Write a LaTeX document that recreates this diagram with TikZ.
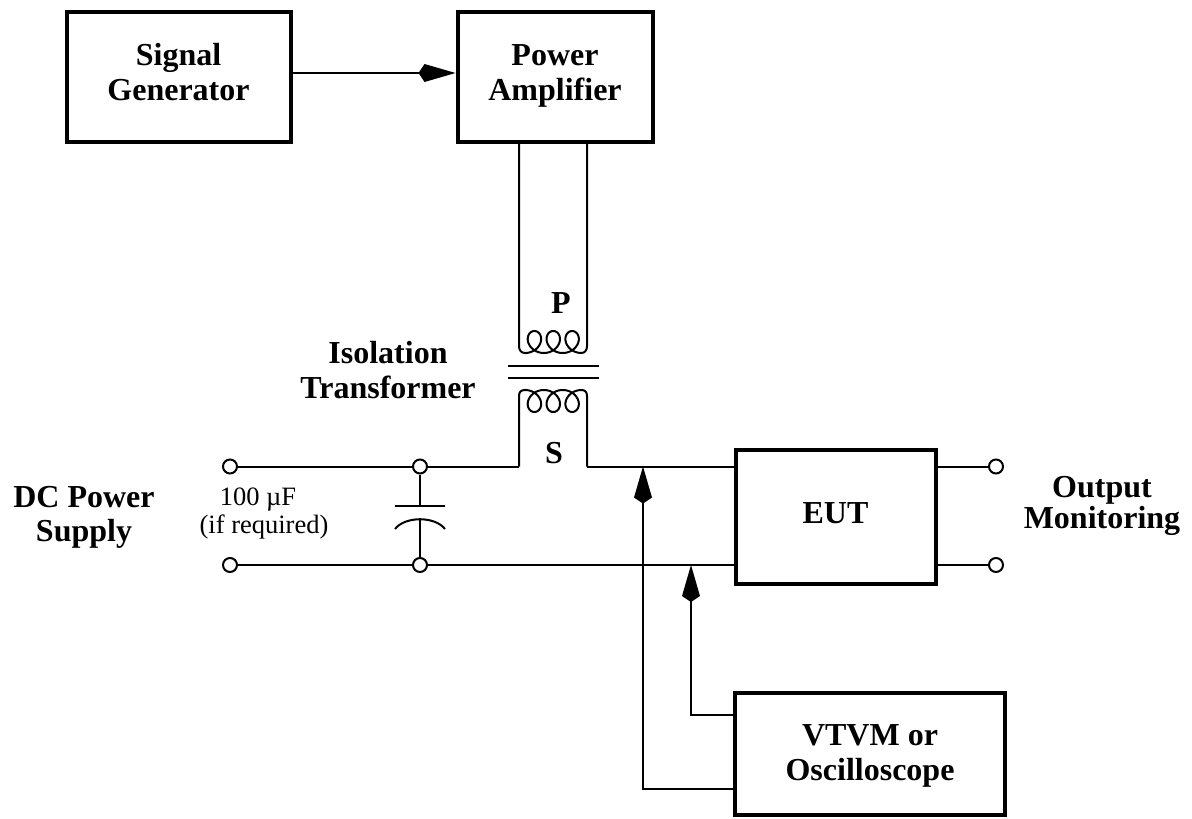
\documentclass[tikz,border=0pt]{standalone}
\usepackage{fontspec}
\setmainfont{Liberation Serif}
\usetikzlibrary{arrows.meta,calc}
\begin{document}
\begin{tikzpicture}[x=1pt,y=-1pt,
  box/.style={draw, line width=4pt, inner sep=0pt, rectangle},
  lbl/.style={font=\bfseries\fontsize{32}{34}\selectfont, inner sep=0pt, anchor=base},
  note/.style={font=\fontsize{26.5}{28}\selectfont, inner sep=0pt, anchor=base},
  wire/.style={line width=2pt},
  term/.style={circle, draw, line width=2pt, minimum size=14pt, inner sep=0pt},
  arr/.style={-{Kite[length=37pt,width=18pt,inset=6pt]}}
]
\useasboundingbox (0,0) rectangle (1192,819);

% boxes
\node[box, minimum width=224pt, minimum height=130pt] (sg) at (178.5,76.5) {};
\node[box, minimum width=195pt, minimum height=130pt] (pa) at (555,76.5) {};
\node[box, minimum width=200pt, minimum height=133.5pt] (eut) at (835.5,517) {};
\node[box, minimum width=270pt, minimum height=121.5pt] (vt) at (870,753.75) {};

% box texts
\node[lbl] (sg1) at (178.5,65) {Signal};
\node[lbl] (sg2) at (178.5,100) {Generator};
\node[lbl] (pa1) at (555,65) {Power};
\node[lbl] (pa2) at (555,100) {Amplifier};
\node[lbl] (eutt) at (835.5,523) {EUT};
\node[lbl] (vt1) at (870,745) {VTVM or};
\node[lbl] (vt2) at (870,780) {Oscilloscope};

% free labels
\node[lbl] (plbl) at (561,313) {P};
\node[lbl] (slbl) at (554,463) {S};
\node[lbl] (iso1) at (388,363) {Isolation};
\node[lbl] (iso2) at (388,398) {Transformer};
\node[lbl] (dc1) at (84,507) {DC Power};
\node[lbl] (dc2) at (84,541) {Supply};
\node[lbl] (om1) at (1102,497) {Output};
\node[lbl] (om2) at (1102,528) {Monitoring};
\node[note] (cap1) at (258,505) {100 µF};
\node[note] (cap2) at (264,533) {(if required)};

% terminals and junctions
\node[term] (tl1) at (230,466.5) {};
\node[term] (tl2) at (230,565) {};
\node[term] (j1) at (420,466.5) {};
\node[term] (j2) at (420,565) {};
\node[term] (to1) at (996,466.5) {};
\node[term] (to2) at (996,565) {};

\coordinate (pl) at (519,142);
\coordinate (pr) at (587,142);
\coordinate (sl) at (519,466.5);
\coordinate (sr) at (587,466.5);

% signal arrow
\draw[wire,arr] (sg.east |- 0,73) -- (pa.west |- 0,73);

% primary winding
\draw[wire] (pl) -- (519,346) .. controls (519,350) and (521,353) .. (525,353)
  -- plot[domain=pi:7*pi, samples=240, variable=\t]
     ({525 + 3*(\t - pi) - 11*sin(\t r)}, {342 - 11*cos(\t r)})
  .. controls (585,353) and (587,350) .. (587,346) -- (pr);

% core
\draw[wire] (508,366) -- (599,366);
\draw[wire] (508,378) -- (599,378);

% secondary winding
\draw[wire] (sl) -- (519,396) .. controls (519,392) and (521,390) .. (525,390)
  -- plot[domain=pi:7*pi, samples=240, variable=\t]
     ({525 + 3*(\t - pi) - 11*sin(\t r)}, {401 + 11*cos(\t r)})
  .. controls (585,390) and (587,392) .. (587,396) -- (sr);

% supply wires
\draw[wire] (tl1) -- (j1) -- (sl);
\draw[wire] (sr) -- (eut.west |- sr);
\draw[wire] (tl2) -- (j2) -- (eut.west |- j2);

% capacitor
\draw[wire] (j1) -- (420,506);
\draw[wire] (395,506) -- (445,506);
\draw[wire] (395,529) .. controls (405,516) and (435,516) .. (445,529);
\draw[wire] (420,518.3) -- (j2);

% outputs
\draw[wire] (eut.east |- to1) -- (to1);
\draw[wire] (eut.east |- to2) -- (to2);

% probes
\draw[wire,arr] (vt.west |- 0,789) -- (643,789) -- (643,466.5);
\draw[wire,arr] (vt.west |- 0,715) -- (691,715) -- (691,565);
\end{tikzpicture}
\end{document}
